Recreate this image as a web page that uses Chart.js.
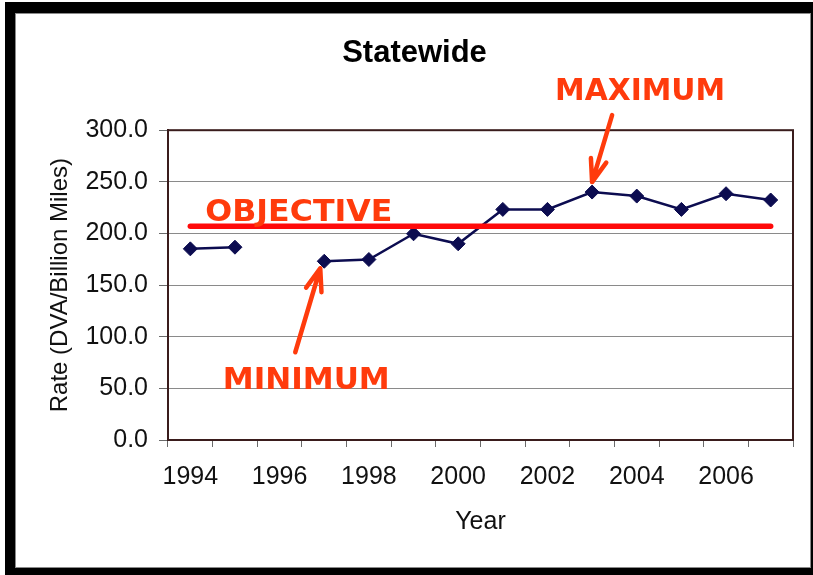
<!DOCTYPE html>
<html>
<head>
<meta charset="utf-8">
<title>Statewide</title>
<script src="https://cdn.jsdelivr.net/npm/chart.js@4.4.1/dist/chart.umd.min.js"></script>
<style>
  html, body { margin: 0; padding: 0; background: #fff; }
  #frame {
    position: absolute; left: 5px; top: 2px; width: 808px; height: 573px;
    background: #000;
  }
  #panel {
    position: absolute; left: 10px; top: 11px; width: 796px; height: 555px;
    box-sizing: border-box; border: 1px solid #8a8a8a; background: #fff;
  }
  #chart { display: block; }
</style>
</head>
<body>
<div id="frame">
  <div id="panel">
    <canvas id="chart" width="794" height="553"></canvas>
  </div>
</div>
<script>
// Crash rate per billion vehicle miles, statewide
const years = ['1994', '1995', '1996', '1997', '1998', '1999', '2000',
               '2001', '2002', '2003', '2004', '2005', '2006', '2007'];
const rates = [185.1, 186.7, null, 173.1, 174.8, 199.7, 190.0,
               223.3, 223.3, 240.1, 236.2, 223.3, 238.5, 232.4];
const objectiveRate = 207;
const objectiveLine = years.map(() => objectiveRate);
const yTickValues = [0, 50, 100, 150, 200, 250, 300];

const FONT = 'Liberation Sans, Arial, sans-serif';
const NOTE_COLOR = '#ff3b0c';

// Hand-drawn style callouts for the objective, minimum and maximum
const calloutPlugin = {
  id: 'callouts',
  beforeDatasetsDraw(chart) {
    const { ctx, chartArea: a } = chart;
    ctx.save();
    ctx.strokeStyle = '#3a1c1c';
    ctx.lineWidth = 2;
    ctx.strokeRect(a.left, a.top, a.right - a.left, a.bottom - a.top);
    ctx.restore();
  },
  afterDatasetsDraw(chart) {
    const { ctx } = chart;
    const x = chart.scales.x, y = chart.scales.y;

    const drawWord = (text, cx, baseline, width, align) => {
      ctx.save();
      ctx.font = 'bold 31px "DejaVu Sans", sans-serif';
      ctx.fillStyle = NOTE_COLOR;
      ctx.textBaseline = 'alphabetic';
      const w = ctx.measureText(text).width;
      const left = align === 'left' ? cx : cx - width / 2;
      ctx.translate(left, baseline);
      ctx.scale(width / w, 1);
      ctx.fillText(text, 0, 0);
      ctx.restore();
    };

    const drawArrow = (x0, y0, x1, y1) => {
      ctx.save();
      ctx.strokeStyle = NOTE_COLOR;
      ctx.lineWidth = 4.5;
      ctx.lineCap = 'round';
      ctx.lineJoin = 'round';
      ctx.beginPath();
      ctx.moveTo(x0, y0);
      ctx.lineTo(x1, y1);
      const ang = Math.atan2(y1 - y0, x1 - x0);
      const len = 24, spread = 0.34;
      ctx.moveTo(x1 - len * Math.cos(ang - spread), y1 - len * Math.sin(ang - spread));
      ctx.lineTo(x1, y1);
      ctx.lineTo(x1 - len * Math.cos(ang + spread), y1 - len * Math.sin(ang + spread));
      ctx.stroke();
      ctx.restore();
    };

    // objective label sits just above its line
    const objY = y.getPixelForValue(objectiveRate);
    drawWord('OBJECTIVE', x.getPixelForValue(0) + 15, objY - 5, 187, 'left');

    // minimum and maximum of the series
    const valid = rates.map((v, i) => [v, i]).filter(p => p[0] !== null);
    const minP = valid.reduce((m, p) => (p[0] < m[0] ? p : m));
    const maxP = valid.reduce((m, p) => (p[0] > m[0] ? p : m));

    const mnX = x.getPixelForValue(minP[1]), mnY = y.getPixelForValue(minP[0]);
    drawArrow(mnX - 29, mnY + 91, mnX - 4, mnY + 7);
    drawWord('MINIMUM', mnX - 18, mnY + 128, 167, 'center');

    const mxX = x.getPixelForValue(maxP[1]), mxY = y.getPixelForValue(maxP[0]);
    drawArrow(mxX + 20, mxY - 77, mxX, mxY - 10);
    drawWord('MAXIMUM', mxX + 48, mxY - 92, 170, 'center');
  }
};

new Chart(document.getElementById('chart'), {
  type: 'line',
  data: {
    labels: years,
    datasets: [
      {
        label: 'Objective',
        data: objectiveLine,
        borderColor: '#ff0a0a',
        borderWidth: 5.5,
        borderCapStyle: 'round',
        pointRadius: 0,
        fill: false
      },
      {
        label: 'Rate',
        data: rates,
        borderColor: '#0c0c50',
        backgroundColor: '#0c0c50',
        borderWidth: 2.5,
        pointStyle: 'rectRot',
        pointRadius: 7,
        pointBorderWidth: 1,
        spanGaps: false,
        fill: false
      }
    ]
  },
  options: {
    responsive: false,
    animation: false,
    layout: { padding: { left: 20, right: 17, top: 0, bottom: 10 } },
    plugins: {
      legend: { display: false },
      tooltip: { enabled: false },
      title: {
        display: true,
        text: 'Statewide',
        color: '#000',
        font: { family: FONT, size: 31, weight: 'bold' },
        padding: { top: 21, bottom: 58 }
      }
    },
    scales: {
      x: {
        type: 'category',
        offset: true,
        afterFit(scale) { scale.height = 117; },
        grid: {
          offset: true,
          drawOnChartArea: false,
          drawTicks: true,
          tickLength: 7,
          color: '#6a6a6a'
        },
        border: { display: true, color: '#3a1c1c', width: 2 },
        ticks: {
          autoSkip: false,
          maxRotation: 0,
          padding: 15,
          color: '#111',
          font: { family: FONT, size: 25 },
          callback: (v, i) => (i % 2 === 0 ? years[i] : '')
        },
        title: {
          display: true,
          text: 'Year',
          color: '#111',
          font: { family: FONT, size: 25 },
          padding: { top: 0, bottom: 20 }
        }
      },
      y: {
        min: 0,
        max: 300,
        afterFit(scale) { scale.width = 132; },
        afterBuildTicks(scale) { scale.ticks = yTickValues.map(v => ({ value: v })); },
        grid: {
          color: '#8a8a8a',
          lineWidth: 1,
          drawTicks: true,
          tickLength: 9,
          tickColor: '#6a6a6a'
        },
        border: { display: true, color: '#3a1c1c', width: 2 },
        ticks: {
          padding: 11,
          color: '#111',
          font: { family: FONT, size: 25 },
          callback: v => Number(v).toFixed(1)
        },
        title: {
          display: true,
          text: 'Rate (DVA/Billion Miles)',
          color: '#111',
          font: { family: FONT, size: 24 },
          padding: { top: 10, bottom: 0 }
        }
      }
    }
  },
  plugins: [calloutPlugin]
});
</script>
</body>
</html>
